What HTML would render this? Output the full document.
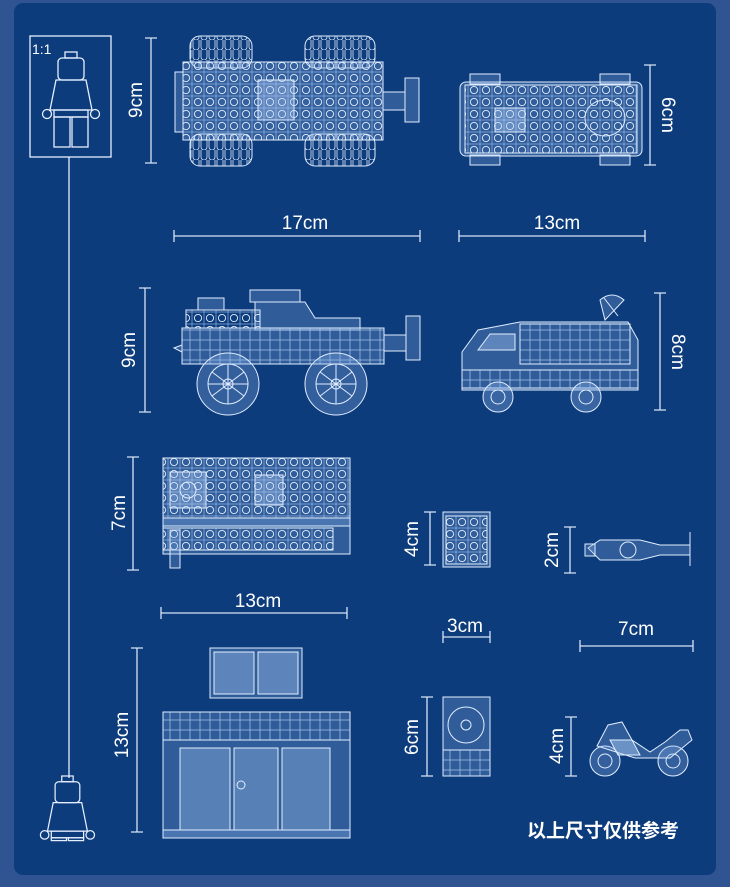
<!DOCTYPE html>
<html><head><meta charset="utf-8"><style>
html,body{margin:0;padding:0;background:#2f5491;}
svg{display:block}
text{font-family:"Liberation Sans","Noto Sans CJK SC",sans-serif;fill:#fff}
</style></head><body>
<svg width="730" height="887" viewBox="0 0 730 887" xmlns="http://www.w3.org/2000/svg">
<defs>
<pattern id="studs" width="12" height="12" patternUnits="userSpaceOnUse">
<rect width="12" height="12" fill="none" stroke="#9fc0ea" stroke-width="0.6"/>
<circle cx="6" cy="6" r="3.6" fill="none" stroke="#e3efff" stroke-width="0.9"/>
</pattern>
<pattern id="grid" width="10" height="10" patternUnits="userSpaceOnUse">
<rect width="10" height="10" fill="none" stroke="#a9c6ec" stroke-width="0.7"/>
</pattern>
<pattern id="tread" width="8" height="10" patternUnits="userSpaceOnUse">
<path d="M1 0 V7 A3 3 0 0 0 7 7 V0" fill="none" stroke="#dbe8fb" stroke-width="0.8"/>
</pattern>
</defs>
<rect x="0" y="0" width="730" height="887" fill="#2f5491"/>
<rect x="14" y="3" width="702" height="872" rx="9" fill="#0d3c7c"/>
<g stroke="#e6efff" fill="none" stroke-width="1.3">
<rect x="30" y="36" width="81" height="121"/>
<line x1="69" y1="157" x2="69" y2="778"/>
<g transform="translate(40,52)">
<rect x="25" y="0" width="12" height="6"/>
<rect x="18" y="6" width="26" height="22" rx="4"/>
<path d="M16 28 H46 L52 58 H10 Z"/>
<circle cx="7" cy="62" r="4.5"/><circle cx="55" cy="62" r="4.5"/>
<rect x="14" y="58" width="34" height="7"/>
<rect x="14" y="65" width="16" height="30"/><rect x="32" y="65" width="16" height="30"/>
</g>
<g transform="translate(38,776) scale(0.95)">
<rect x="25" y="0" width="12" height="6"/>
<rect x="18" y="6" width="26" height="22" rx="4"/>
<path d="M16 28 H46 L52 58 H10 Z"/>
<circle cx="7" cy="62" r="4.5"/><circle cx="55" cy="62" r="4.5"/>
<rect x="14" y="58" width="34" height="7"/>
<rect x="14" y="65" width="16" height="3"/><rect x="32" y="65" width="16" height="3"/>
</g>
</g>
<g stroke="#d6e3f6" stroke-width="1.3" fill="none">
<path d="M151 38 V163 M145 38 H157 M145 163 H157"/>
<path d="M650 65 V165 M644 65 H656 M644 165 H656"/>
<path d="M174 236 H420 M174 230 V242 M420 230 V242"/>
<path d="M459 236 H645 M459 230 V242 M645 230 V242"/>
<path d="M145 288 V412 M139 288 H151 M139 412 H151"/>
<path d="M660 293 V410 M654 293 H666 M654 410 H666"/>
<path d="M133 457 V570 M127 457 H139 M127 570 H139"/>
<path d="M430 512 V565 M424 512 H436 M424 565 H436"/>
<path d="M570 527 V573 M564 527 H576 M564 573 H576"/>
<path d="M161 613 H347 M161 607 V619 M347 607 V619"/>
<path d="M443 637 H490 M443 631 V643 M490 631 V643"/>
<path d="M580 646 H693 M580 640 V652 M693 640 V652"/>
<path d="M137 648 V832 M131 648 H143 M131 832 H143"/>
<path d="M427 697 V776 M421 697 H433 M421 776 H433"/>
<path d="M571 717 V776 M565 717 H577 M565 776 H577"/>
</g>
<g font-size="19">
<text transform="translate(142,100) rotate(-90)" text-anchor="middle">9cm</text>
<text transform="translate(662,115) rotate(90)" text-anchor="middle">6cm</text>
<text x="305" y="229" text-anchor="middle">17cm</text>
<text x="557" y="229" text-anchor="middle">13cm</text>
<text transform="translate(135,350) rotate(-90)" text-anchor="middle">9cm</text>
<text transform="translate(672,352) rotate(90)" text-anchor="middle">8cm</text>
<text transform="translate(125,513) rotate(-90)" text-anchor="middle">7cm</text>
<text transform="translate(418,539) rotate(-90)" text-anchor="middle">4cm</text>
<text transform="translate(558,550) rotate(-90)" text-anchor="middle">2cm</text>
<text x="258" y="607" text-anchor="middle">13cm</text>
<text x="465" y="632" text-anchor="middle">3cm</text>
<text x="636" y="635" text-anchor="middle">7cm</text>
<text transform="translate(128,735) rotate(-90)" text-anchor="middle">13cm</text>
<text transform="translate(418,737) rotate(-90)" text-anchor="middle">6cm</text>
<text transform="translate(563,746) rotate(-90)" text-anchor="middle">4cm</text>
</g>
<text x="32" y="54" font-size="14">1:1</text>
<text x="603" y="837" font-size="19" text-anchor="middle" font-weight="bold">以上尺寸仅供参考</text>

<g stroke="#e1edff" stroke-width="1" fill="rgba(140,180,235,0.28)">
<rect x="190" y="36" width="62" height="32" rx="10" fill="url(#tread)"/>
<rect x="190" y="134" width="62" height="32" rx="10" fill="url(#tread)"/>
<rect x="305" y="36" width="70" height="32" rx="10" fill="url(#tread)"/>
<rect x="305" y="134" width="70" height="32" rx="10" fill="url(#tread)"/>
<rect x="175" y="72" width="8" height="60"/>
<rect x="183" y="62" width="200" height="78" fill="rgba(140,180,235,0.3)"/>
<rect x="183" y="62" width="200" height="78" fill="url(#studs)"/>
<rect x="258" y="80" width="36" height="40" fill="rgba(180,210,250,0.35)"/>
<rect x="383" y="92" width="22" height="18"/>
<rect x="405" y="78" width="14" height="44"/>
<rect x="460" y="82" width="182" height="74" rx="6"/>
<rect x="465" y="85" width="172" height="68" fill="url(#studs)"/>
<rect x="470" y="74" width="30" height="10"/><rect x="600" y="74" width="30" height="10"/>
<rect x="470" y="155" width="30" height="10"/><rect x="600" y="155" width="30" height="10"/>
<rect x="495" y="108" width="30" height="24" fill="rgba(180,210,250,0.4)"/>
<ellipse cx="605" cy="118" rx="20" ry="18" fill="none"/>
<rect x="198" y="298" width="26" height="12"/>
<rect x="250" y="290" width="50" height="12"/>
<path d="M255 302 L305 302 L315 318 L360 318 V330 H255 Z"/>
<rect x="186" y="310" width="74" height="18" fill="url(#studs)"/>
<rect x="182" y="328" width="202" height="36"/>
<rect x="182" y="328" width="202" height="36" fill="url(#grid)"/>
<rect x="384" y="335" width="22" height="16"/>
<rect x="406" y="316" width="14" height="44"/>
<path d="M182 345 L174 348 L182 352"/>
<circle cx="228" cy="384" r="31" fill="rgba(140,180,235,0.3)"/>
<circle cx="228" cy="384" r="20" fill="none"/>
<circle cx="228" cy="384" r="5" fill="none"/>
<path d="M212 372 L244 396 M244 372 L212 396 M228 364 V404 M208 384 H248" fill="none"/>
<circle cx="336" cy="384" r="31" fill="rgba(140,180,235,0.3)"/>
<circle cx="336" cy="384" r="20" fill="none"/>
<circle cx="336" cy="384" r="5" fill="none"/>
<path d="M320 372 L352 396 M352 372 L320 396 M336 364 V404 M316 384 H356" fill="none"/>
<path d="M462 352 L478 330 L520 322 L628 322 L638 340 V390 H462 Z"/>
<rect x="520" y="324" width="110" height="40" fill="url(#grid)"/>
<path d="M478 350 L490 334 L515 334 V350 Z" fill="rgba(180,210,250,0.35)"/>
<rect x="462" y="370" width="176" height="18" fill="url(#grid)"/>
<path d="M605 320 L600 300 Q612 290 624 300 Z"/>
<line x1="604" y1="298" x2="618" y2="316"/>
<circle cx="498" cy="397" r="15" fill="rgba(140,180,235,0.35)"/>
<circle cx="498" cy="397" r="7" fill="none"/>
<circle cx="586" cy="397" r="15" fill="rgba(140,180,235,0.35)"/>
<circle cx="586" cy="397" r="7" fill="none"/>
<rect x="163" y="458" width="187" height="96"/>
<rect x="163" y="458" width="187" height="60" fill="url(#studs)"/>
<rect x="163" y="518" width="187" height="8"/>
<rect x="163" y="528" width="170" height="22" fill="url(#studs)"/>
<rect x="170" y="472" width="36" height="36" fill="rgba(180,210,250,0.35)"/>
<circle cx="188" cy="490" r="8" fill="none"/>
<rect x="255" y="475" width="28" height="30" fill="rgba(180,210,250,0.35)"/>
<rect x="170" y="530" width="10" height="38"/>
<rect x="443" y="512" width="47" height="55"/>
<rect x="446" y="516" width="41" height="48" fill="url(#studs)"/>
<rect x="443" y="697" width="47" height="79"/>
<circle cx="466" cy="725" r="18" fill="none"/>
<circle cx="466" cy="725" r="5" fill="none"/>
<rect x="443" y="750" width="47" height="26" fill="url(#grid)"/>
<path d="M588 548 L600 540 H640 L660 545 H690 L690 555 H660 L640 560 H600 Z"/>
<circle cx="628" cy="550" r="8" fill="none"/>
<rect x="585" y="544" width="10" height="12"/>
<line x1="690" y1="532" x2="690" y2="566"/>
<rect x="210" y="648" width="92" height="50"/>
<rect x="214" y="652" width="40" height="42" fill="rgba(180,210,250,0.35)"/>
<rect x="258" y="652" width="40" height="42" fill="rgba(180,210,250,0.35)"/>
<rect x="163" y="712" width="187" height="126"/>
<rect x="163" y="712" width="187" height="28" fill="url(#grid)"/>
<rect x="180" y="748" width="50" height="82" fill="rgba(180,210,250,0.3)"/>
<rect x="234" y="748" width="44" height="82" fill="rgba(180,210,250,0.3)"/>
<rect x="282" y="748" width="48" height="82" fill="rgba(180,210,250,0.3)"/>
<circle cx="241" cy="785" r="4" fill="none"/>
<rect x="163" y="830" width="187" height="8"/>
<circle cx="605" cy="761" r="15" fill="rgba(140,180,235,0.3)"/>
<circle cx="605" cy="761" r="7" fill="none"/>
<circle cx="673" cy="761" r="15" fill="rgba(140,180,235,0.3)"/>
<circle cx="673" cy="761" r="7" fill="none"/>
<path d="M597 746 L608 725 L622 722 L632 740 L650 752 L665 742 L680 730 H688 L692 740 L670 758 H635 Z"/>
<path d="M610 740 H632 L640 755 H618 Z" fill="rgba(180,210,250,0.45)"/>
</g>
</svg>
</body></html>
